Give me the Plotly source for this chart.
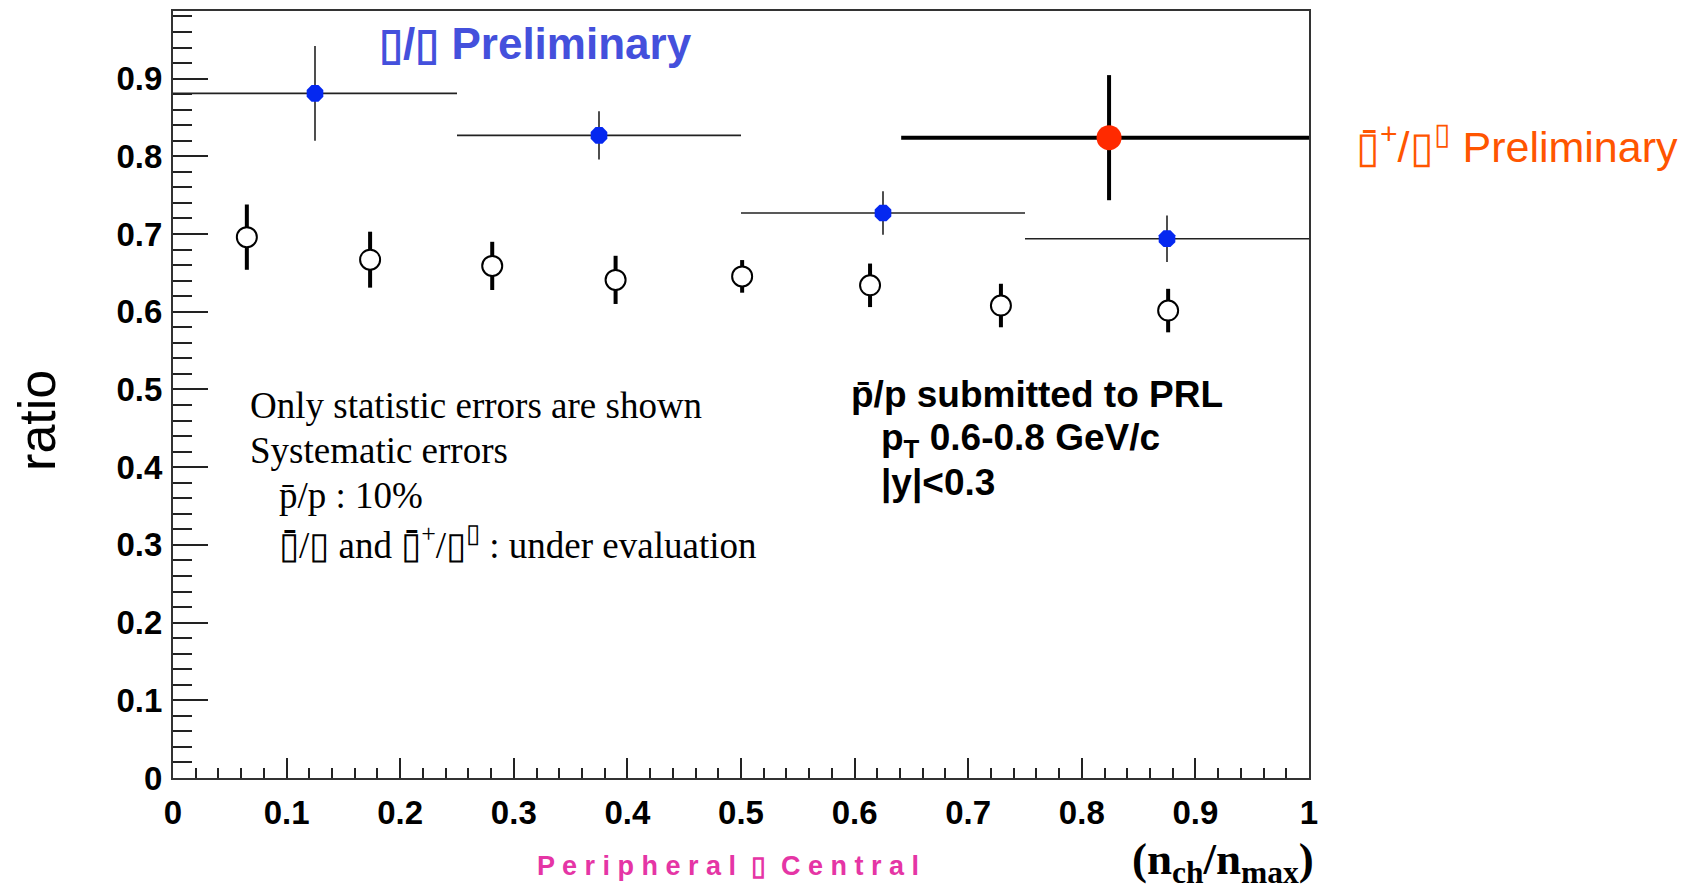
import plotly.graph_objects as go

# ---------------- data ----------------
# anti-proton / proton (open circles)
pp_x = [0.065, 0.1735, 0.281, 0.3896, 0.501, 0.6136, 0.7288, 0.876]
pp_y = [0.696, 0.667, 0.659, 0.641, 0.6455, 0.634, 0.608, 0.6015]
pp_err = [0.042, 0.036, 0.031, 0.031, 0.021, 0.028, 0.028, 0.028]

# anti-Lambda / Lambda (blue)
lam_x = [0.125, 0.375, 0.625, 0.875]
lam_y = [0.881, 0.827, 0.727, 0.694]
lam_yerr = [0.061, 0.031, 0.028, 0.030]
lam_xerr = [0.125, 0.125, 0.125, 0.125]

# anti-Xi+ / Xi- (red)
xi_x = [0.824]
xi_y = [0.824]
xi_yerr = [0.0805]
xi_xerr_minus = [0.183]
xi_xerr_plus = [0.176]

x_ticks = [0, 0.1, 0.2, 0.3, 0.4, 0.5, 0.6, 0.7, 0.8, 0.9, 1]
y_ticks = [0, 0.1, 0.2, 0.3, 0.4, 0.5, 0.6, 0.7, 0.8, 0.9]

# ---------------- layout geometry ----------------
W, H = 1688, 895
L, R, T, B = 173, 1309, 9, 778


def px(xp):
    return (xp - L) / (R - L)


def py(yp):
    return (B - yp) / (B - T)


SANS = "Liberation Sans, Arial, Helvetica, sans-serif"
SERIF = "Liberation Serif, Times New Roman, serif"

fig = go.Figure()

fig.add_trace(go.Scatter(
    x=pp_x, y=pp_y, mode="markers",
    marker=dict(symbol="circle", size=20, color="white",
                line=dict(color="black", width=2)),
    error_y=dict(type="data", array=pp_err, thickness=4, width=0, color="black"),
    showlegend=False,
))

fig.add_trace(go.Scatter(
    x=lam_x, y=lam_y, mode="markers",
    marker=dict(symbol="octagon", size=18, color="#0528f0",
                line=dict(width=0)),
    error_y=dict(type="data", array=lam_yerr, thickness=1.6, width=0, color="#222222"),
    error_x=dict(type="data", array=lam_xerr, thickness=1.6, width=0, color="#222222"),
    showlegend=False,
))

fig.add_trace(go.Scatter(
    x=xi_x, y=xi_y, mode="markers",
    marker=dict(symbol="circle", size=25, color="#ff2a00", line=dict(width=0)),
    error_y=dict(type="data", array=xi_yerr, thickness=4, width=0, color="black"),
    error_x=dict(type="data", symmetric=False, array=xi_xerr_plus,
                 arrayminus=xi_xerr_minus, thickness=4, width=0, color="black"),
    showlegend=False,
))

tickfont = dict(family=SANS, size=33, color="black", weight="bold")

fig.update_xaxes(
    range=[0, 1], tickvals=x_ticks, ticktext=[str(v) if v not in (0, 1) else str(int(v)) for v in x_ticks],
    ticks="inside", ticklen=20, tickwidth=1.5, tickcolor="#222222",
    minor=dict(ticks="inside", ticklen=10, dtick=0.02, tickwidth=1.5, tickcolor="#222222"),
    showline=True, linecolor="#333333", linewidth=2, mirror=True,
    showgrid=False, zeroline=False, tickfont=tickfont, ticklabelstandoff=4,
)
fig.update_yaxes(
    range=[0, 0.987], tickvals=y_ticks, ticktext=["0"] + [f"{v:.1f}" for v in y_ticks[1:]],
    ticks="inside", ticklen=35, tickwidth=1.5, tickcolor="#222222",
    minor=dict(ticks="inside", ticklen=19, dtick=0.02, tickwidth=1.5, tickcolor="#222222"),
    showline=True, linecolor="#333333", linewidth=2, mirror=True,
    showgrid=False, zeroline=False, tickfont=tickfont, ticklabelstandoff=2,
)

ann = []


def add(text, xp, yp, size, family=SANS, color="black", weight="normal",
        xanchor="left", yanchor="middle", angle=0):
    ann.append(dict(text=text, x=px(xp), y=py(yp), xref="paper", yref="paper",
                    xanchor=xanchor, yanchor=yanchor, showarrow=False, textangle=angle,
                    font=dict(family=family, size=size, color=color, weight=weight)))


BOX = "\u25af"
MAC = "\u0304"

add(f"{BOX}/{BOX} Preliminary", 377, 42, 44, color="#4450dc", weight="bold")
add(f"{BOX}{MAC}<sup>+</sup>/{BOX}<sup>{BOX}</sup> Preliminary", 1354, 142, 43, color="#ff5500")

add("p\u0304/p submitted to PRL", 849, 393, 37, weight="bold")
add("p<sub>T</sub> 0.6-0.8 GeV/c", 879, 439, 37, weight="bold")
add("|y|&lt;0.3", 879, 482, 37, weight="bold")

add("Only statistic errors are shown", 248, 405, 37, family=SERIF)
add("Systematic errors", 248, 450, 37, family=SERIF)
add("p\u0304/p : 10%", 277, 495, 37, family=SERIF)
add(f"{BOX}{MAC}/{BOX} and {BOX}{MAC}<sup>+</sup>/{BOX}<sup>{BOX}</sup> : under evaluation",
    277, 542, 37, family=SERIF)

add("P e r i p h e r a l  " + BOX + "  C e n t r a l", 535, 866, 27,
    color="#e535a5", weight="bold")
add("(n<sub>ch</sub>/n<sub>max</sub>)", 1316, 862, 45, family=SERIF,
    weight="bold", xanchor="right")
add("ratio", 37, 420, 52, xanchor="center", angle=-90)

fig.update_layout(
    width=W, height=H, autosize=False,
    margin=dict(l=L, r=W - R, t=T, b=H - B),
    paper_bgcolor="white", plot_bgcolor="white",
    annotations=ann,
)

fig.write_html("out.html")
